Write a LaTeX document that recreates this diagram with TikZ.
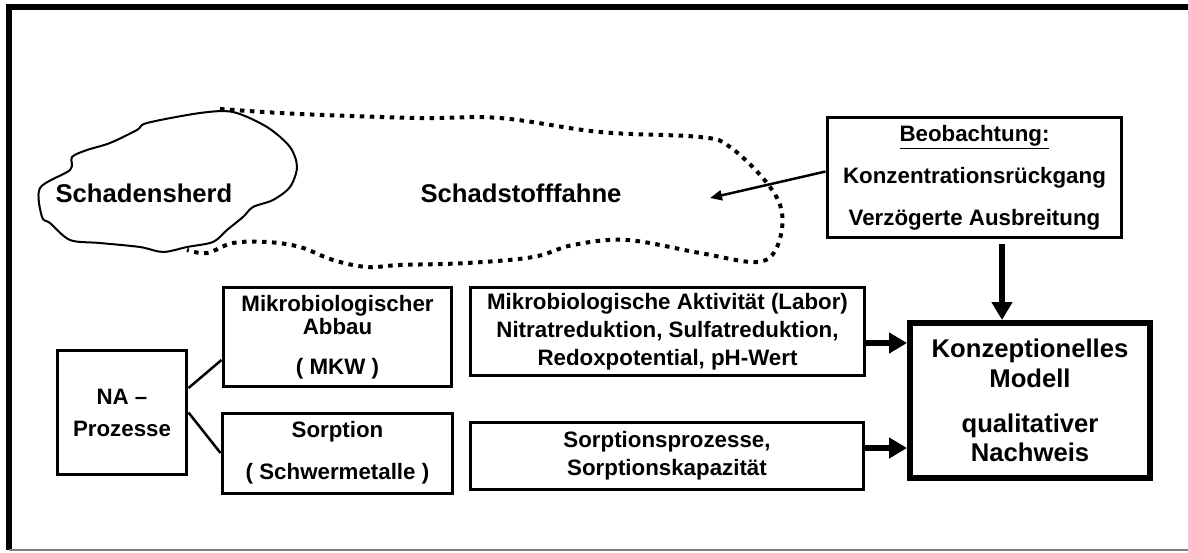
\documentclass[tikz,border=0pt]{standalone}
\usepackage{fontspec}
\setmainfont{Liberation Sans}
\usetikzlibrary{arrows.meta}

\begin{document}
\begin{tikzpicture}[x=0.02cm, y=-0.02cm,
    txt/.style={font=\fontsize{12.7}{15.9}\selectfont\bfseries, align=center, inner sep=0pt},
    gross/.style={font=\fontsize{14.6}{17}\selectfont\bfseries},
    box/.style={txt, draw, line width=0.06cm},
    dicker/.style={line width=0.11cm, -{Triangle[length=0.36cm,width=0.4cm]}},
    duenn/.style={line width=0.05cm, -{Triangle[length=0.24cm,width=0.2cm]}},
    fahne/.style={line width=0.08cm, dash pattern=on 0.09cm off 0.11cm}]
\useasboundingbox (0,0) rectangle (1188,552);

% Rahmen
\draw[line width=0.12cm] (9,550) -- (9,7) -- (1188,7);
\draw[gray, line width=0.04cm] (9,550) -- (1188,550);

% Schadensherd und Fahne
\draw[line width=0.04cm] plot[smooth cycle, tension=0.5] coordinates {
  (40,188) (70,170) (72,157) (87,150) (110,143) (137,130) (147,123) (200,113)
  (233,112) (267,127) (290,147) (297,167) (290,187) (273,200) (253,207)
  (243,217) (227,230) (213,242) (187,247) (163,252) (140,247) (100,243)
  (70,240) (50,223) (42,217)};
\draw[fahne] plot[smooth, tension=0.6] coordinates {
  (220,109) (300,114) (420,118) (500,118) (600,132) (700,137) (730,147)
  (767,183) (782,213) (777,247) (757,262) (700,253) (627,240) (573,245)
  (533,257) (467,263) (400,265) (367,267) (333,260) (300,247) (267,242)
  (233,243) (207,253) (187,250)};
\node[txt, gross] (herd) at (144,193) {Schadensherd};
\node[txt, gross] (fahnetxt) at (521,193) {Schadstofffahne};
\coordinate (fahneZiel) at (710,198);

% Beobachtung
\node[box, minimum width=5.9cm, minimum height=2.42cm] (beob) at (974.5,177.5)
  {\underline{Beobachtung:}\\[8pt] Konzentrationsrückgang\\[8pt] Verzögerte Ausbreitung};

% Konzeptionelles Modell
\node[txt, gross, draw, line width=0.12cm, minimum width=4.8cm, minimum height=3.1cm] (konz) at (1030,400.5)
  {Konzeptionelles\\ Modell\\[8.5pt] qualitativer\\ Nachweis};

% Prozesse links
\node[box, minimum width=2.6cm, minimum height=2.5cm] (na) at (122,412.5)
  {NA --\\[2.3pt] Prozesse};
\node[box, minimum width=4.58cm, minimum height=2.0cm] (mab) at (337.5,337)
  {Mikrobiologischer\\[-2.9pt] Abbau\\[6.8pt] ( MKW )};
\node[box, minimum width=4.62cm, minimum height=1.6cm] (sorp) at (337.5,453)
  {Sorption\\[8pt] ( Schwermetalle )};

% Untersuchungen
\node[box, minimum width=7.9cm, minimum height=1.78cm] (akt) at (667.5,331.5)
  {Mikrobiologische Aktivität (Labor)\\ Nitratreduktion, Sulfatreduktion,\\ Redoxpotential, pH-Wert};
\node[box, minimum width=7.88cm, minimum height=1.34cm] (sorpk) at (667,455.5)
  {Sorptionsprozesse,\\ Sorptionskapazität};

% Verbindungen
\draw[line width=0.05cm] ([yshift=0.49cm]na.east) -- ([yshift=-0.46cm]mab.west);
\draw[line width=0.05cm] (na.east) -- (sorp.west);
\draw[duenn] ([yshift=0.12cm]beob.west) -- (fahneZiel);
\coordinate (pfeilx) at (1002,0);
\draw[dicker, shorten <=0.1cm] (beob.south -| pfeilx) -- (konz.north -| pfeilx);
\coordinate (aktAus) at ([yshift=-0.23cm]akt.east);
\draw[dicker] (aktAus) -- (aktAus -| konz.west);
\coordinate (sorpAus) at ([yshift=0.15cm]sorpk.east);
\draw[dicker] (sorpAus) -- (sorpAus -| konz.west);
\end{tikzpicture}
\end{document}
